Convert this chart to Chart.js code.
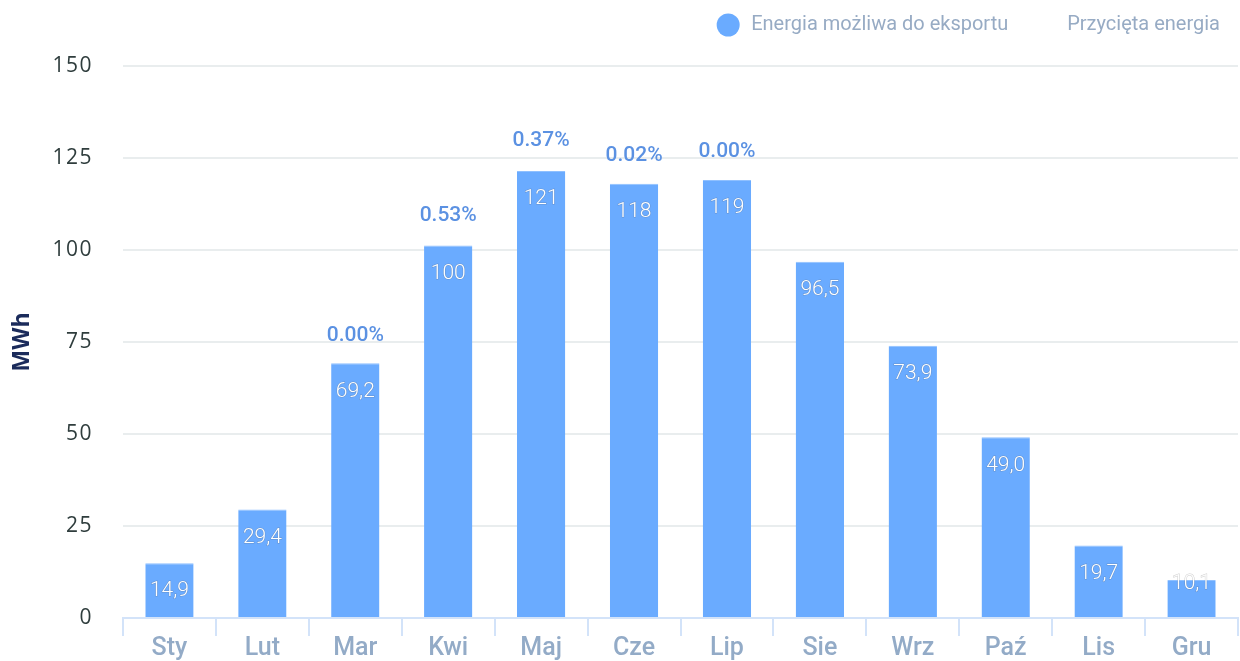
<!DOCTYPE html>
<html>
<head>
<meta charset="utf-8">
<script src="https://cdn.jsdelivr.net/npm/chart.js@4/dist/chart.umd.min.js"></script>
<style>
    html, body { margin: 0; padding: 0; background: #fff; overflow: hidden; }
    #wrap { position: relative; width: 1240px; height: 661px; }
</style>
</head>
<body>
<div id="wrap"><canvas id="grafico"></canvas></div>
<script>
// dane
const miesiace = ['Sty', 'Lut', 'Mar', 'Kwi', 'Maj', 'Cze', 'Lip', 'Sie', 'Wrz', 'Paź', 'Lis', 'Gru'];
const energiaEksport = [14.9, 29.5, 69.2, 101.2, 121.5, 118, 119, 96.8, 74, 49.1, 19.7, 10.3];
const energiaEksportTxt = ['14,9', '29,4', '69,2', '100', '121', '118', '119', '96,5', '73,9', '49,0', '19,7', '10,1'];
const energiaPrzycieta = [0, 0, 0, 0.53, 0.45, 0.02, 0, 0, 0, 0, 0, 0];
const przyciecieProc = [null, null, '0.00%', '0.53%', '0.37%', '0.02%', '0.00%', null, null, null, null, null];
const osYTicks = [0, 25, 50, 75, 100, 125, 150];

const NIEBIESKI = '#6aabff';

// etykiety na słupkach
const etykietyPlugin = {
    id: 'etykiety',
    afterDatasetsDraw(chart) {
        const ctx = chart.ctx;
        const meta = chart.getDatasetMeta(0);
        const metaTop = chart.getDatasetMeta(1);
        ctx.save();
        ctx.textAlign = 'center';
        ctx.textBaseline = 'middle';
        meta.data.forEach((bar, i) => {
            const wys = bar.base - bar.y;
            const y = wys < 45 ? bar.y + 4 : bar.y + 28;
            ctx.font = '300 21px Roboto';
            ctx.lineWidth = 1;
            ctx.strokeStyle = 'rgba(90,90,90,0.3)';
            ctx.strokeText(energiaEksportTxt[i], bar.x, y);
            ctx.fillStyle = '#ffffff';
            ctx.fillText(energiaEksportTxt[i], bar.x, y);
        });
        metaTop.data.forEach((bar, i) => {
            if (!przyciecieProc[i]) return;
            ctx.font = '500 21px Roboto';
            ctx.fillStyle = '#5b91e2';
            ctx.fillText(przyciecieProc[i], bar.x, bar.y - 28);
        });
        ctx.restore();
    }
};

// legenda rysowana ręcznie (prawy górny róg)
const legendaPlugin = {
    id: 'legenda',
    afterDraw(chart) {
        const ctx = chart.ctx;
        ctx.save();
        ctx.font = '20px Roboto';
        ctx.textBaseline = 'middle';
        ctx.textAlign = 'left';
        let x = chart.width - 20;
        const y = 25;
        const zestawy = chart.data.datasets;
        for (let i = zestawy.length - 1; i >= 0; i--) {
            const tekst = zestawy[i].label;
            const tw = ctx.measureText(tekst).width;
            const start = x - tw;
            ctx.fillStyle = '#97abc4';
            ctx.fillText(tekst, start, y);
            ctx.beginPath();
            ctx.arc(start - 23, y, 11.5, 0, Math.PI * 2);
            ctx.fillStyle = zestawy[i].backgroundColor;
            ctx.fill();
            x = start - 23 - 11 - 25;
        }
        ctx.restore();
    }
};

// odstępy między cyframi na osi Y
const rozstawPlugin = {
    id: 'rozstaw',
    beforeDraw(chart) {
        const skala = chart.scales.y;
        if (skala._rozstaw) return;
        skala._rozstaw = true;
        const oryg = skala.drawLabels;
        skala.drawLabels = function(area) {
            chart.ctx.save();
            chart.ctx.letterSpacing = '1.5px';
            oryg.call(this, area);
            chart.ctx.restore();
        };
    }
};

new Chart(document.getElementById('grafico'), {
    type: 'bar',
    data: {
        labels: miesiace,
        datasets: [{
            label: 'Energia możliwa do eksportu',
            data: energiaEksport,
            backgroundColor: NIEBIESKI,
            borderColor: '#8fc0ff',
            borderWidth: { top: 1, left: 0, right: 0, bottom: 0 },
            barPercentage: 0.52,
            categoryPercentage: 1
        }, {
            label: 'Przycięta energia',
            data: energiaPrzycieta,
            backgroundColor: 'rgba(0,0,0,0)',
            borderColor: 'rgba(0,0,0,0)',
            barPercentage: 0.52,
            categoryPercentage: 1
        }]
    },
    options: {
        responsive: true,
        maintainAspectRatio: false,
        animation: false,
        layout: { padding: { top: 66, right: 2, left: 0, bottom: 0 } },
        plugins: {
            legend: { display: false },
            tooltip: { enabled: false }
        },
        scales: {
            x: {
                stacked: true,
                afterFit(scale) { scale.height = 43; },
                border: { color: '#d3e3f9', width: 2 },
                grid: {
                    drawOnChartArea: false,
                    color: '#d3e3f9',
                    lineWidth: 2,
                    tickLength: 18
                },
                ticks: {
                    color: '#93abc7',
                    font: { family: 'Roboto', size: 25, weight: '500' },
                    padding: -2
                }
            },
            y: {
                stacked: true,
                min: 0,
                max: 150,
                afterBuildTicks(axis) {
                    axis.ticks = osYTicks.map(v => ({ value: v }));
                },
                afterFit(scale) { scale.width = 123; },
                border: { display: false },
                grid: {
                    color: '#e9edee',
                    lineWidth: 2,
                    drawTicks: false
                },
                ticks: {
                    color: '#2f3d3d',
                    padding: 30,
                    font: { family: 'Open Sans', size: 21 }
                },
                title: {
                    display: true,
                    text: 'MWh',
                    color: '#1b2b5b',
                    font: { family: 'Open Sans', size: 23, weight: 'bold' },
                    padding: { top: 9, bottom: 4 }
                }
            }
        }
    },
    plugins: [etykietyPlugin, legendaPlugin, rozstawPlugin]
});
</script>
</body>
</html>
